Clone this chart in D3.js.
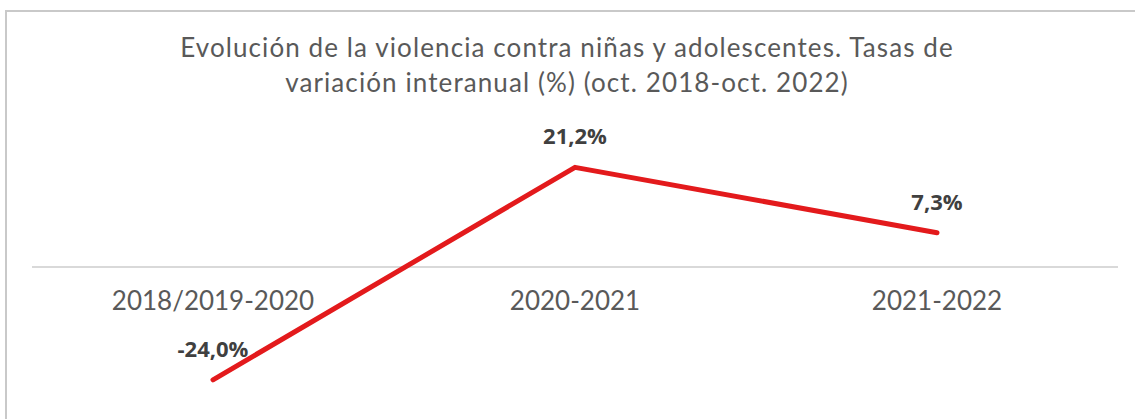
<!DOCTYPE html>
<html>
<head>
<meta charset="utf-8">
<script src="https://cdn.jsdelivr.net/npm/d3@7"></script>
<style>
html,body{margin:0;padding:0;background:#fff;}
svg{display:block;}
</style>
</head>
<body>
<svg id="chart" width="1135" height="419"></svg>
<script>
const titleLines = ["Evolución de la violencia contra niñas y adolescentes. Tasas de", "variación interanual (%) (oct. 2018-oct. 2022)"];
const categories = ["2018/2019-2020", "2020-2021", "2021-2022"];
const values = [-24.0, 21.2, 7.3];
const valueLabels = ["-24,0%", "21,2%", "7,3%"];

const svg = d3.select("#chart");

// frame
svg.append("path")
  .attr("d", "M6,430 L6,11 L1140,11")
  .attr("fill", "none")
  .attr("stroke", "#c9c9c9")
  .attr("stroke-width", 2);

const x = d3.scaleBand().domain(categories).range([32, 1118]);
const y = d3.scaleLinear().domain([-30, 30]).range([267 + 30 * 4.7, 267 - 30 * 4.7]);

// title
const title = svg.append("text")
  .attr("text-anchor", "middle")
  .attr("fill", "#595959")
  .style("font-family", "Lato, 'Open Sans', sans-serif")
  .style("font-size", "26px")
  .style("letter-spacing", "1.1px");
titleLines.forEach((t, i) => {
  title.append("tspan").attr("x", 567).attr("y", 57 + i * 35).text(t);
});

// zero line
svg.append("line")
  .attr("x1", x.range()[0]).attr("x2", x.range()[1])
  .attr("y1", y(0)).attr("y2", y(0))
  .attr("stroke", "#d9d9d9").attr("stroke-width", 2);

// category labels
svg.append("g").selectAll("text").data(categories).join("text")
  .attr("x", d => x(d) + x.bandwidth() / 2)
  .attr("y", 310)
  .attr("text-anchor", "middle")
  .attr("fill", "#595959")
  .style("font-family", "Lato, 'Open Sans', sans-serif")
  .style("font-size", "26px")
  .text(d => d);

// line
const line = d3.line()
  .x((d, i) => x(categories[i]) + x.bandwidth() / 2)
  .y(d => y(d));
svg.append("path")
  .datum(values)
  .attr("d", line)
  .attr("fill", "none")
  .attr("stroke", "#e31a1c")
  .attr("stroke-width", 5)
  .attr("stroke-linecap", "round")
  .attr("stroke-linejoin", "round");

// data labels
svg.append("g").selectAll("text").data(values).join("text")
  .attr("x", (d, i) => x(categories[i]) + x.bandwidth() / 2)
  .attr("y", d => y(d) - 23)
  .attr("text-anchor", "middle")
  .attr("fill", "#404040")
  .style("font-family", "'Open Sans', sans-serif")
  .style("font-weight", "bold")
  .style("font-size", "22px")
  .text((d, i) => valueLabels[i]);
</script>
</body>
</html>
